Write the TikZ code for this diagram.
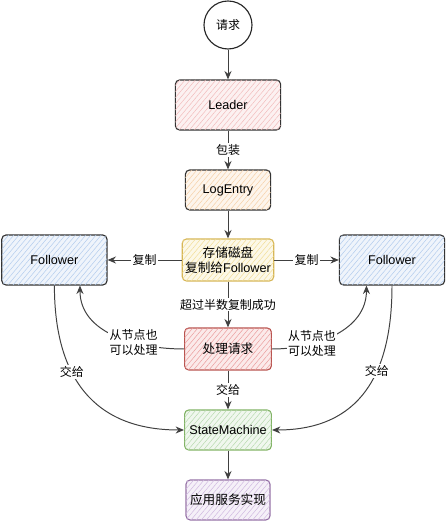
\documentclass[tikz,border=0pt]{standalone}
\usepackage{fontspec}
\setmainfont{Liberation Sans}
\newfontfamily\cjk{Noto Sans CJK SC}
\usetikzlibrary{arrows.meta,patterns.meta}

\definecolor{pinkhatch}{RGB}{240,175,175}
\definecolor{orangehatch}{RGB}{245,200,150}
\definecolor{yellowhatch}{RGB}{240,215,130}
\definecolor{bluehatch}{RGB}{165,195,235}
\definecolor{redhatch}{RGB}{232,140,140}
\definecolor{greenhatch}{RGB}{170,212,160}
\definecolor{purplehatch}{RGB}{200,172,218}
\definecolor{yellowline}{HTML}{D6B656}
\definecolor{redline}{HTML}{B85450}
\definecolor{greenline}{HTML}{82B366}
\definecolor{purpleline}{HTML}{9673A6}

\begin{document}
\begin{tikzpicture}[
    font=\fontsize{9pt}{11pt}\selectfont,
    box/.style={draw=black!80, line width=0.8pt, rounded corners=3pt, align=center, inner sep=2pt},
    hatch/.style={fill=#1!18, postaction={pattern={Lines[angle=50,distance=2.8pt,line width=0.35pt]}, pattern color=#1!85}},
    edge/.style={-{Stealth[length=6pt,width=5pt]}, draw=black!75, line width=0.7pt},
    lbl/.style={fill=white, inner sep=1pt, align=center, font=\cjk\fontsize{8.5pt}{10.5pt}\selectfont}
]
    \useasboundingbox (0,0) rectangle (11.15,13.025);

    \node[circle, draw=black!85, line width=0.8pt, fill=white, minimum size=1.2cm, inner sep=0pt, font=\cjk\fontsize{8.5pt}{10.5pt}\selectfont] (req) at (5.7, 12.4) {请求};
    \node[box, hatch=pinkhatch, minimum width=2.63cm, minimum height=1.25cm] (leader) at (5.7, 10.4) {Leader};
    \node[box, hatch=orangehatch, minimum width=2.13cm, minimum height=1.0cm] (logentry) at (5.7, 8.275) {LogEntry};
    \node[box, hatch=yellowhatch, draw=yellowline, minimum width=2.17cm, minimum height=1.05cm] (store) at (5.7, 6.525) {{\cjk 存储磁盘}\\{\cjk 复制给}Follower};

    \node[box, hatch=bluehatch, minimum width=2.63cm, minimum height=1.25cm] (fleft) at (1.36, 6.525) {Follower};
    \node[box, hatch=bluehatch, minimum width=2.63cm, minimum height=1.25cm] (fright) at (9.8, 6.525) {Follower};

    \node[box, hatch=redhatch, draw=redline, minimum width=2.17cm, minimum height=1.05cm] (proc) at (5.7, 4.3) {\cjk 处理请求};
    \node[box, hatch=greenhatch, draw=greenline, minimum width=2.17cm, minimum height=1.0cm] (sm) at (5.7, 2.275) {StateMachine};
    \node[box, hatch=purplehatch, draw=purpleline, minimum width=2.1cm, minimum height=1.0cm] (app) at (5.7, 0.525) {\cjk 应用服务实现};

    % Arrows
    \draw[edge] (req) -- (leader);
    \draw[edge] (leader) -- (logentry) node[lbl, midway] {包装};
    \draw[edge] (logentry) -- (store);
    \draw[edge] (store) -- (fleft) node[lbl, midway] {复制};
    \draw[edge] (store) -- (fright) node[lbl, midway] {复制};
    \draw[edge] (store) -- (proc) node[lbl, midway] {超过半数复制成功};
    \draw[edge] (proc) -- (sm) node[lbl, midway] {交给};
    \draw[edge] (sm) -- (app);

    \draw[edge] (proc.west) to[out=180, in=-90] node[lbl, pos=0.35] {从节点也\\可以处理} (fleft.-45);
    \draw[edge] (proc.east) to[out=0, in=-90] node[lbl, pos=0.3] {从节点也\\可以处理} (fright.-135);

    \draw[edge] (fleft.south) to[out=-90, in=180, looseness=1.2] node[lbl, pos=0.38] {交给} (sm.west);
    \draw[edge] (fright.south) to[out=-90, in=0, looseness=1.2] node[lbl, pos=0.38] {交给} (sm.east);

\end{tikzpicture}
\end{document}
